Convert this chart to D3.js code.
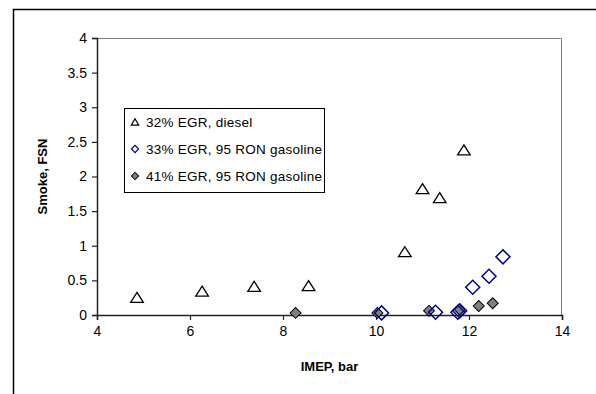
<!DOCTYPE html>
<html>
<head>
<meta charset="utf-8">
<script src="https://cdn.jsdelivr.net/npm/d3@7"></script>
<style>
  body { margin: 0; background: #fff; }
  svg { display: block; font-family: Arial, "Liberation Sans", sans-serif; }
</style>
</head>
<body>
<div id="chart"></div>
<script>
// series: 32% EGR, diesel
const dieselImep  = [4.86, 6.26, 7.38, 8.55, 10.62, 11.0, 11.37, 11.89];
const dieselSmoke = [0.23, 0.32, 0.39, 0.40, 0.89, 1.80, 1.67, 2.36];
// series: 33% EGR, 95 RON gasoline
const gas33Imep  = [10.12, 11.28, 11.76, 11.8, 12.08, 12.43, 12.73];
const gas33Smoke = [0.03, 0.04, 0.04, 0.06, 0.40, 0.56, 0.84];
// series: 41% EGR, 95 RON gasoline
const gas41Imep  = [8.27, 10.03, 11.14, 11.8, 12.21, 12.51];
const gas41Smoke = [0.03, 0.03, 0.06, 0.08, 0.13, 0.17];

const xTicks = [4, 6, 8, 10, 12, 14];
const yTicks = [0, 0.5, 1, 1.5, 2, 2.5, 3, 3.5, 4];
const legendLabels = ["32% EGR, diesel", "33% EGR, 95 RON gasoline", "41% EGR, 95 RON gasoline"];

const W = 596, H = 394;
const plot = { left: 97, top: 38, right: 562, bottom: 315 };

const svg = d3.select("#chart").append("svg")
  .attr("width", W).attr("height", H);

// outer chart frame (runs off the right and bottom edges)
svg.append("rect")
  .attr("x", 13.5).attr("y", 9.5)
  .attr("width", W + 10).attr("height", H + 10)
  .attr("fill", "#fff").attr("stroke", "#000").attr("stroke-width", 1.5);

const x = d3.scaleLinear().domain([4, 14]).range([plot.left, plot.right]);
const y = d3.scaleLinear().domain([0, 4]).range([plot.bottom, plot.top]);

// plot area border, grey top and right
svg.append("path")
  .attr("d", `M${plot.left},${plot.top + 0.5}H${plot.right - 0.5}V${plot.bottom}`)
  .attr("fill", "none").attr("stroke", "#808080").attr("stroke-width", 1);

const xAxis = svg.append("g")
  .attr("transform", `translate(0,${plot.bottom})`)
  .call(d3.axisBottom(x).tickValues(xTicks).tickSize(5).tickPadding(6).tickFormat(d3.format("d")));

const yAxis = svg.append("g")
  .attr("transform", `translate(${plot.left},0)`)
  .call(d3.axisLeft(y).tickValues(yTicks).tickSize(5).tickPadding(5).tickFormat(d => d));

[xAxis, yAxis].forEach(a => {
  a.select(".domain").attr("stroke", "#222").attr("stroke-width", 1.5);
  a.selectAll(".tick line").attr("stroke", "#222").attr("stroke-width", 1.2);
  a.selectAll(".tick text").attr("fill", "#000")
    .style("font-size", "14px").style("font-family", "Arial, 'Liberation Sans', sans-serif");
});

// axis titles
svg.append("text")
  .attr("x", (plot.left + plot.right) / 2).attr("y", 371)
  .attr("text-anchor", "middle")
  .style("font-size", "13px").style("font-weight", "bold")
  .text("IMEP, bar");

svg.append("text")
  .attr("transform", `translate(47,${(plot.top + plot.bottom) / 2}) rotate(-90)`)
  .attr("text-anchor", "middle")
  .style("font-size", "13px").style("font-weight", "bold")
  .text("Smoke, FSN");

// markers
const tri = d3.symbol().type(d3.symbolTriangle).size(58);
const sq = size => d3.symbol().type(d3.symbolSquare).size(size);

const pts = svg.append("g");

pts.selectAll(".g41").data(d3.range(gas41Imep.length)).join("path")
  .attr("transform", i => `translate(${x(gas41Imep[i])},${y(gas41Smoke[i])}) rotate(45)`)
  .attr("d", sq(60))
  .attr("fill", "#808080").attr("stroke", "#000").attr("stroke-width", 1);

pts.selectAll(".g33").data(d3.range(gas33Imep.length)).join("path")
  .attr("transform", i => `translate(${x(gas33Imep[i])},${y(gas33Smoke[i])}) rotate(45)`)
  .attr("d", sq(98))
  .attr("fill", "none").attr("stroke", "#000099").attr("stroke-width", 1.5);

pts.selectAll(".dsl").data(d3.range(dieselImep.length)).join("path")
  .attr("transform", i => `translate(${x(dieselImep[i])},${y(dieselSmoke[i])}) scale(1.1,1)`)
  .attr("d", tri)
  .attr("fill", "#fff").attr("stroke", "#000").attr("stroke-width", 1.2);

// legend
const lg = svg.append("g").attr("transform", "translate(124,108)");
lg.append("rect")
  .attr("x", 0.5).attr("y", 0.5).attr("width", 200).attr("height", 84)
  .attr("fill", "#fff").attr("stroke", "#000").attr("stroke-width", 1);

const rowY = [14, 41, 68];
lg.append("path").attr("transform", `translate(11,${rowY[0] + 1})`)
  .attr("d", d3.symbol().type(d3.symbolTriangle).size(24))
  .attr("fill", "#fff").attr("stroke", "#000").attr("stroke-width", 1.2);
lg.append("path").attr("transform", `translate(11,${rowY[1]}) rotate(45)`)
  .attr("d", sq(26))
  .attr("fill", "none").attr("stroke", "#000099").attr("stroke-width", 1.2);
lg.append("path").attr("transform", `translate(11,${rowY[2]}) rotate(45)`)
  .attr("d", sq(26))
  .attr("fill", "#808080").attr("stroke", "#000").attr("stroke-width", 1);

lg.selectAll(".lt").data(legendLabels).join("text")
  .attr("x", 22).attr("y", (d, i) => rowY[i] + 5)
  .style("font-size", "13.5px").style("letter-spacing", "0.25px").attr("fill", "#000")
  .text(d => d);
</script>
</body>
</html>
